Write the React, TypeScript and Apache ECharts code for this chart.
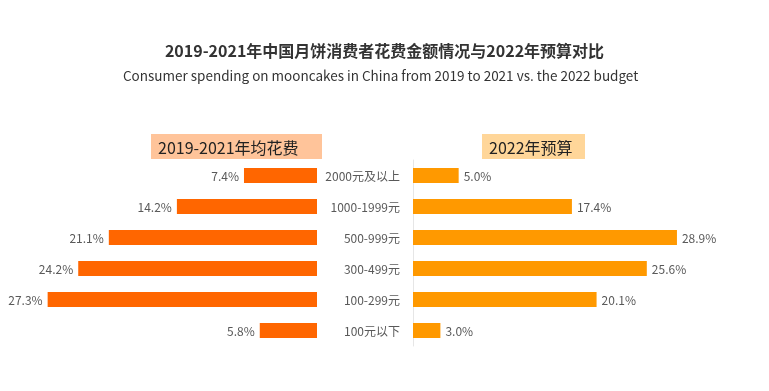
import React, { useEffect, useRef } from "react";
import * as echarts from "echarts";

const categories = ["2000元及以上", "1000-1999元", "500-999元", "300-499元", "100-299元", "100元以下"];
const spending2019to2021 = [7.4, 14.2, 21.1, 24.2, 27.3, 5.8];
const budget2022 = [5.0, 17.4, 28.9, 25.6, 20.1, 3.0];
const leftHeader = "2019-2021年均花费";
const rightHeader = "2022年预算";
const titleText = "2019-2021年中国月饼消费者花费金额情况与2022年预算对比";
const subtitleText = "Consumer spending on mooncakes in China from 2019 to 2021 vs. the 2022 budget";

const FONT = "'Noto Sans CJK SC', 'Noto Sans', sans-serif";

export default function App() {
  const ref = useRef<HTMLDivElement>(null);
  useEffect(() => {
    if (!ref.current) return;
    const chart = echarts.init(ref.current, null, { renderer: "svg" });
    const cats = categories.slice().reverse();
    const left = spending2019to2021.slice().reverse();
    const right = budget2022.slice().reverse();
    chart.setOption({
      animation: false,
      textStyle: { fontFamily: FONT },
      title: [
        {
          text: titleText,
          left: "center",
          top: 37,
          textStyle: { fontSize: 16, fontWeight: "bold", color: "#333", fontFamily: FONT },
        },
        {
          text: subtitleText,
          left: 118,
          top: 63,
          textStyle: { fontSize: 13.5, fontWeight: "normal", color: "#333", fontFamily: FONT },
        },
      ],
      graphic: [
        {
          type: "group",
          children: [
            { type: "rect", shape: { x: 151, y: 134, width: 171, height: 25 }, style: { fill: "#FFC49A" } },
            {
              type: "text",
              x: 158,
              y: 146.5,
              style: { text: leftHeader, fontSize: 16, fill: "#222", fontFamily: FONT, verticalAlign: "middle" },
            },
            { type: "rect", shape: { x: 482, y: 134, width: 103, height: 25 }, style: { fill: "#FFD699" } },
            {
              type: "text",
              x: 489,
              y: 146.5,
              style: { text: rightHeader, fontSize: 16, fill: "#222", fontFamily: FONT, verticalAlign: "middle" },
            },
          ],
        },
      ],
      grid: [
        { left: 21, right: 452, top: 160, bottom: 45, containLabel: false },
        { left: 413, right: 82, top: 160, bottom: 45, containLabel: false },
      ],
      xAxis: [
        { gridIndex: 0, type: "value", min: 0, max: 30, inverse: true, show: false },
        { gridIndex: 1, type: "value", min: 0, max: 30, show: false },
      ],
      yAxis: [
        { gridIndex: 0, type: "category", data: cats, show: false },
        {
          gridIndex: 1,
          type: "category",
          data: cats,
          axisLine: { show: true, lineStyle: { color: "#E6E6E6" } },
          axisTick: { show: false },
          axisLabel: { margin: 13, fontSize: 12, color: "#595959", fontFamily: FONT },
        },
      ],
      series: [
        {
          type: "bar",
          xAxisIndex: 0,
          yAxisIndex: 0,
          data: left,
          barWidth: 15,
          itemStyle: { color: "#FF6600" },
          label: {
            show: true,
            position: "left",
            distance: 5,
            formatter: (p: any) => p.value.toFixed(1) + "%",
            fontSize: 12,
            color: "#595959",
            fontFamily: FONT,
          },
        },
        {
          type: "bar",
          xAxisIndex: 1,
          yAxisIndex: 1,
          data: right,
          barWidth: 15,
          itemStyle: { color: "#FF9900" },
          label: {
            show: true,
            position: "right",
            distance: 5,
            formatter: (p: any) => p.value.toFixed(1) + "%",
            fontSize: 12,
            color: "#595959",
            fontFamily: FONT,
          },
        },
      ],
    });
    return () => chart.dispose();
  }, []);
  return <div ref={ref} style={{ position: "fixed", left: 0, top: 0, width: 769, height: 391 }} />;
}
